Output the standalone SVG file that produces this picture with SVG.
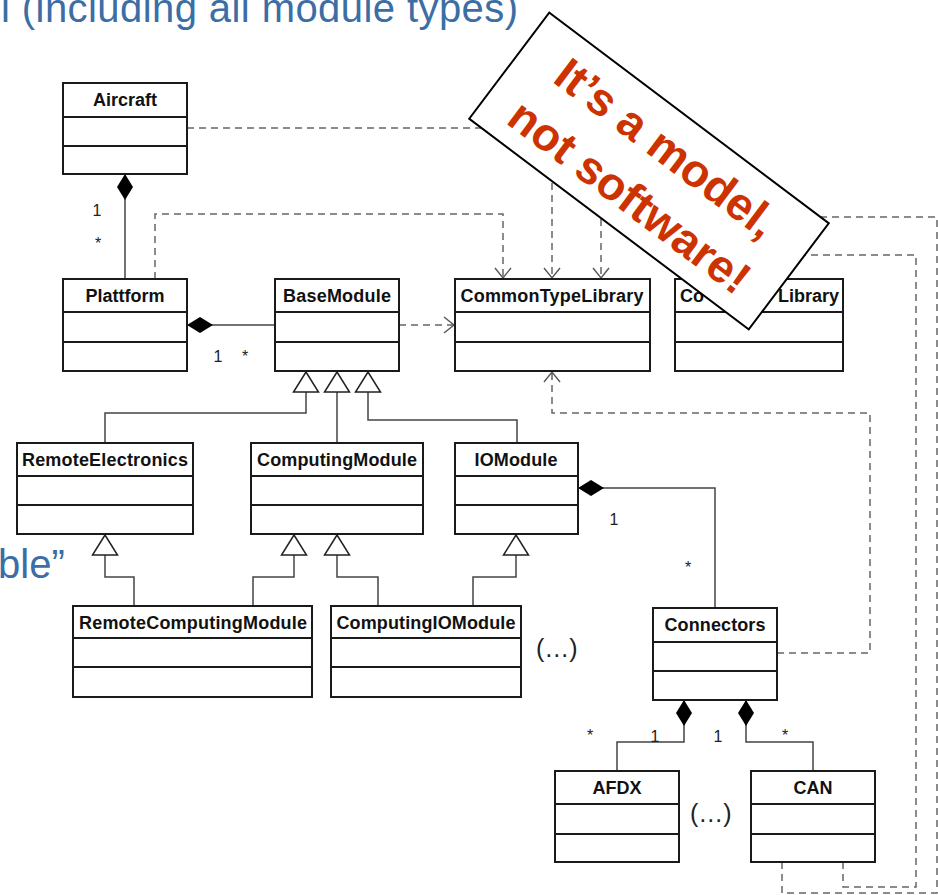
<svg xmlns="http://www.w3.org/2000/svg" width="938" height="895" viewBox="0 0 938 895">
<style>
.box{fill:#fff;stroke:#1a1a1a;stroke-width:2}
.sep{stroke:#1a1a1a;stroke-width:2}
.name{font-family:"Liberation Sans",Arial,sans-serif;font-weight:bold;font-size:18px;fill:#111;text-anchor:middle}
.assoc{fill:none;stroke:#444;stroke-width:1.5}
.dep{fill:none;stroke:#666;stroke-width:1.5;stroke-dasharray:7,5}
.mult{font-family:"Liberation Sans",Arial,sans-serif;font-size:16px;fill:#222;text-anchor:middle}
.ell{font-family:"Liberation Sans",Arial,sans-serif;font-size:25px;fill:#222}
.blue{font-family:"Liberation Sans",Arial,sans-serif;font-size:40px;fill:#3b6ea5}
.banner{fill:#fff;stroke:#000;stroke-width:2}
.btext{font-family:"Liberation Sans",Arial,sans-serif;font-weight:bold;font-size:46px;fill:#cc3300;text-anchor:middle}
</style>
<defs>
<marker id="arr" markerUnits="userSpaceOnUse" markerWidth="24" markerHeight="24" refX="0" refY="0" orient="auto" overflow="visible">
<path d="M-10,-8 L0,0 L-10,8" fill="none" stroke="#555" stroke-width="1.4" stroke-dasharray="none"/>
</marker>
<marker id="diam" markerUnits="userSpaceOnUse" markerWidth="30" markerHeight="20" refX="0" refY="0" orient="auto" overflow="visible">
<path d="M0,0 L13,-8 L26,0 L13,8 Z" fill="#000" stroke="none"/>
</marker>
<marker id="tri" markerUnits="userSpaceOnUse" markerWidth="30" markerHeight="30" refX="0" refY="0" orient="auto" overflow="visible">
<path d="M0,0 L-20,-12.5 L-20,12.5 Z" fill="#fff" stroke="#222" stroke-width="1.5" stroke-dasharray="none"/>
</marker>
</defs>
<rect x="0" y="0" width="938" height="895" fill="#fff"/>
<text class="blue" x="1" y="22" textLength="517" lengthAdjust="spacing">l (including all module types)</text>
<text class="blue" x="-2" y="578" font-size="38">ble”</text>

<g id="connectors">
<path class="dep" d="M187,128 H552 V278" marker-end="url(#arr)"/>
<path class="dep" d="M155,279 V214 H503 V278" marker-end="url(#arr)"/>
<path class="dep" d="M782,862 V893 H937 V217 H601 V278" marker-end="url(#arr)"/>
<path class="dep" d="M843,862 V887 H916 V255 H760 V278" marker-end="url(#arr)"/>
<path class="dep" d="M399,325 H454" marker-end="url(#arr)"/>
<path class="dep" d="M777,653 H870 V413 H552 V372" marker-end="url(#arr)"/>
<path class="assoc" d="M125,174 V279" marker-start="url(#diam)"/>
<path class="assoc" d="M187,325 H275" marker-start="url(#diam)"/>
<path class="assoc" d="M578,488 H715 V608" marker-start="url(#diam)"/>
<path class="assoc" d="M684,700 V742 H617 V771" marker-start="url(#diam)"/>
<path class="assoc" d="M746,700 V742 H813 V771" marker-start="url(#diam)"/>
<path class="assoc" d="M105,443 V413 H306 V372" marker-end="url(#tri)"/>
<path class="assoc" d="M337,443 V372" marker-end="url(#tri)"/>
<path class="assoc" d="M517,443 V420 H368 V372" marker-end="url(#tri)"/>
<path class="assoc" d="M134,606 V577 H105 V535" marker-end="url(#tri)"/>
<path class="assoc" d="M253,606 V577 H294 V535" marker-end="url(#tri)"/>
<path class="assoc" d="M378,606 V577 H337 V535" marker-end="url(#tri)"/>
<path class="assoc" d="M473,606 V577 H516 V535" marker-end="url(#tri)"/>
<text class="mult" x="97" y="216">1</text>
<text class="mult" x="98" y="249">*</text>
<text class="mult" x="218" y="362">1</text>
<text class="mult" x="245" y="362">*</text>
<text class="mult" x="614" y="525">1</text>
<text class="mult" x="688" y="573">*</text>
<text class="mult" x="590" y="741">*</text>
<text class="mult" x="655" y="742">1</text>
<text class="mult" x="718" y="742">1</text>
<text class="mult" x="785" y="741">*</text>
</g>

<g id="Aircraft"><rect class="box" x="63" y="83" width="124" height="91"/><line class="sep" x1="63" y1="117" x2="187" y2="117"/><line class="sep" x1="63" y1="146" x2="187" y2="146"/><text class="name" x="125" y="106" textLength="64">Aircraft</text></g>
<g id="Plattform"><rect class="box" x="63" y="279" width="124" height="92"/><line class="sep" x1="63" y1="312" x2="187" y2="312"/><line class="sep" x1="63" y1="342" x2="187" y2="342"/><text class="name" x="125" y="302" textLength="79">Plattform</text></g>
<g id="BaseModule"><rect class="box" x="275" y="279" width="124" height="92"/><line class="sep" x1="275" y1="312" x2="399" y2="312"/><line class="sep" x1="275" y1="342" x2="399" y2="342"/><text class="name" x="337" y="302" textLength="108">BaseModule</text></g>
<g id="CommonTypeLibrary"><rect class="box" x="455" y="279" width="195" height="92"/><line class="sep" x1="455" y1="312" x2="650" y2="312"/><line class="sep" x1="455" y1="342" x2="650" y2="342"/><text class="name" x="552" y="302" textLength="183">CommonTypeLibrary</text></g>
<g id="CoLibrary"><rect class="box" x="675" y="279" width="168" height="92"/><line class="sep" x1="675" y1="312" x2="843" y2="312"/><line class="sep" x1="675" y1="342" x2="843" y2="342"/><text class="name" x="680" y="302" style="text-anchor:start">Co</text><text class="name" x="839" y="302" style="text-anchor:end">Library</text></g>
<g id="RemoteElectronics"><rect class="box" x="17" y="443" width="176" height="91"/><line class="sep" x1="17" y1="476" x2="193" y2="476"/><line class="sep" x1="17" y1="505" x2="193" y2="505"/><text class="name" x="105" y="466" textLength="166">RemoteElectronics</text></g>
<g id="ComputingModule"><rect class="box" x="251" y="443" width="172" height="91"/><line class="sep" x1="251" y1="476" x2="423" y2="476"/><line class="sep" x1="251" y1="505" x2="423" y2="505"/><text class="name" x="337" y="466" textLength="160">ComputingModule</text></g>
<g id="IOModule"><rect class="box" x="455" y="443" width="123" height="91"/><line class="sep" x1="455" y1="476" x2="578" y2="476"/><line class="sep" x1="455" y1="505" x2="578" y2="505"/><text class="name" x="516" y="466" textLength="83">IOModule</text></g>
<g id="RemoteComputingModule"><rect class="box" x="73" y="606" width="239" height="91"/><line class="sep" x1="73" y1="638" x2="312" y2="638"/><line class="sep" x1="73" y1="667" x2="312" y2="667"/><text class="name" x="193" y="629" textLength="228">RemoteComputingModule</text></g>
<g id="ComputingIOModule"><rect class="box" x="331" y="606" width="190" height="91"/><line class="sep" x1="331" y1="638" x2="521" y2="638"/><line class="sep" x1="331" y1="667" x2="521" y2="667"/><text class="name" x="426" y="629" textLength="179">ComputingIOModule</text></g>
<g id="Connectors"><rect class="box" x="653" y="608" width="124" height="92"/><line class="sep" x1="653" y1="642" x2="777" y2="642"/><line class="sep" x1="653" y1="671" x2="777" y2="671"/><text class="name" x="715" y="631" textLength="101">Connectors</text></g>
<g id="AFDX"><rect class="box" x="555" y="771" width="124" height="91"/><line class="sep" x1="555" y1="804" x2="679" y2="804"/><line class="sep" x1="555" y1="834" x2="679" y2="834"/><text class="name" x="617" y="794" textLength="49">AFDX</text></g>
<g id="CAN"><rect class="box" x="751" y="771" width="124" height="91"/><line class="sep" x1="751" y1="804" x2="875" y2="804"/><line class="sep" x1="751" y1="834" x2="875" y2="834"/><text class="name" x="813" y="794" textLength="39">CAN</text></g>

<text class="ell" x="536" y="657">(…)</text>
<text class="ell" x="690" y="822">(…)</text>

<g id="banner" transform="translate(649,171) rotate(37)">
<rect class="banner" x="-175" y="-66.5" width="350" height="133"/>
<text class="btext" x="0" y="-13">It’s a model,</text>
<text class="btext" x="0" y="48">not software!</text>
</g>
</svg>
